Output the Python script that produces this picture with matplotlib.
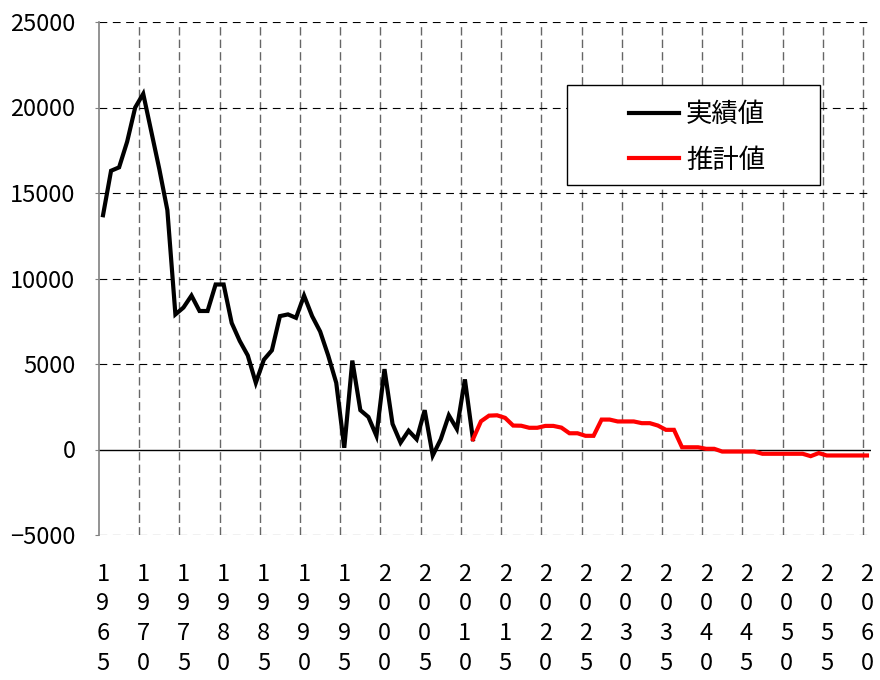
import matplotlib
matplotlib.use('Agg')
import matplotlib.pyplot as plt
from matplotlib.patches import Rectangle
import numpy as np

plt.rcParams['font.family'] = ['Noto Sans CJK JP', 'DejaVu Sans']
plt.rcParams['axes.unicode_minus'] = True

# 実績値（1965〜2011年）
actual_years = list(range(1965, 2012))
actual_values = [
    13700, 16300, 16500, 18000, 20000, 20800, 18600, 16400, 14000, 7900,
    8300, 9000, 8100, 8100, 9650, 9650, 7400, 6350, 5500, 3900,
    5250, 5800, 7800, 7900, 7700, 9000, 7800, 6900, 5500, 3900,
    100, 5200, 2300, 1900, 800, 4700, 1500, 400, 1100, 600,
    2300, -350, 600, 2000, 1200, 4100, 600,
]

# 推計値（2011〜2060年）
estimate_years = list(range(2011, 2061))
estimate_values = [
    600, 1650, 1980, 2000, 1850, 1400, 1390, 1270, 1270, 1380,
    1380, 1280, 950, 950, 800, 800, 1750, 1750, 1640, 1640,
    1640, 1540, 1540, 1400, 1150, 1150, 130, 130, 130, 40,
    40, -120, -120, -120, -120, -120, -250, -250, -250, -250,
    -250, -250, -390, -210, -350, -350, -350, -350, -350, -350,
]

label_years = list(range(1965, 2061, 5))
y_ticks = [-5000, 0, 5000, 10000, 15000, 20000, 25000]
legend_labels = ['実績値', '推計値']

fig = plt.figure(figsize=(8.8, 6.8), dpi=100)
ax = fig.add_axes([99 / 880, 1 - 535 / 680, 772 / 880, 513 / 680])

ax.set_xlim(1964.5, 2060.5)
ax.set_ylim(-5000, 25000)

# 目盛線（縦は区切り位置、横は値）
for x in np.arange(1969.5, 2060, 5):
    ax.axvline(x, color='#666666', lw=1.0, ls=(0, (6, 3)), zorder=1)
for y in y_ticks:
    if y == 0:
        ax.axhline(0, color='black', lw=1.0, zorder=2)
    else:
        ax.axhline(y, color='black', lw=0.8, ls=(0, (7, 5)), zorder=1)

ax.plot(actual_years, actual_values, color='black', lw=3, label=legend_labels[0],
        solid_joinstyle='miter', zorder=3)
ax.plot(estimate_years, estimate_values, color='red', lw=3, label=legend_labels[1],
        solid_joinstyle='miter', zorder=3)

for side in ['top', 'right', 'bottom']:
    ax.spines[side].set_visible(False)
ax.spines['left'].set_color('#808080')
ax.spines['left'].set_linewidth(1.2)

ax.set_yticks(y_ticks)
ax.set_yticklabels([str(v).replace('-', '\u2212') for v in y_ticks])
ax.tick_params(axis='y', length=3, color='#808080', pad=14, labelsize=17)

# 年の数字を縦に積んだラベル
ax.set_xticks(label_years)
ax.set_xticklabels(['\n'.join(str(y)) for y in label_years])
ax.tick_params(axis='x', length=0, pad=20, labelsize=17)
plt.setp(ax.get_xticklabels(), linespacing=1.37)

# 凡例の枠
ax.add_patch(Rectangle((0.6062, 0.6823), 0.3277, 0.1949, transform=ax.transAxes,
                       facecolor='white', edgecolor='black', lw=1.0, zorder=4))
leg = ax.legend(loc='center left', bbox_to_anchor=(0.6865, 0.775), fontsize=19,
                frameon=False, handlelength=1.9, handletextpad=0.26, borderpad=0,
                labelspacing=0.7, borderaxespad=0)
leg.set_zorder(5)
for line in leg.get_lines():
    line.set_linewidth(3)

plt.savefig('out.png', dpi=100)
plt.close()
